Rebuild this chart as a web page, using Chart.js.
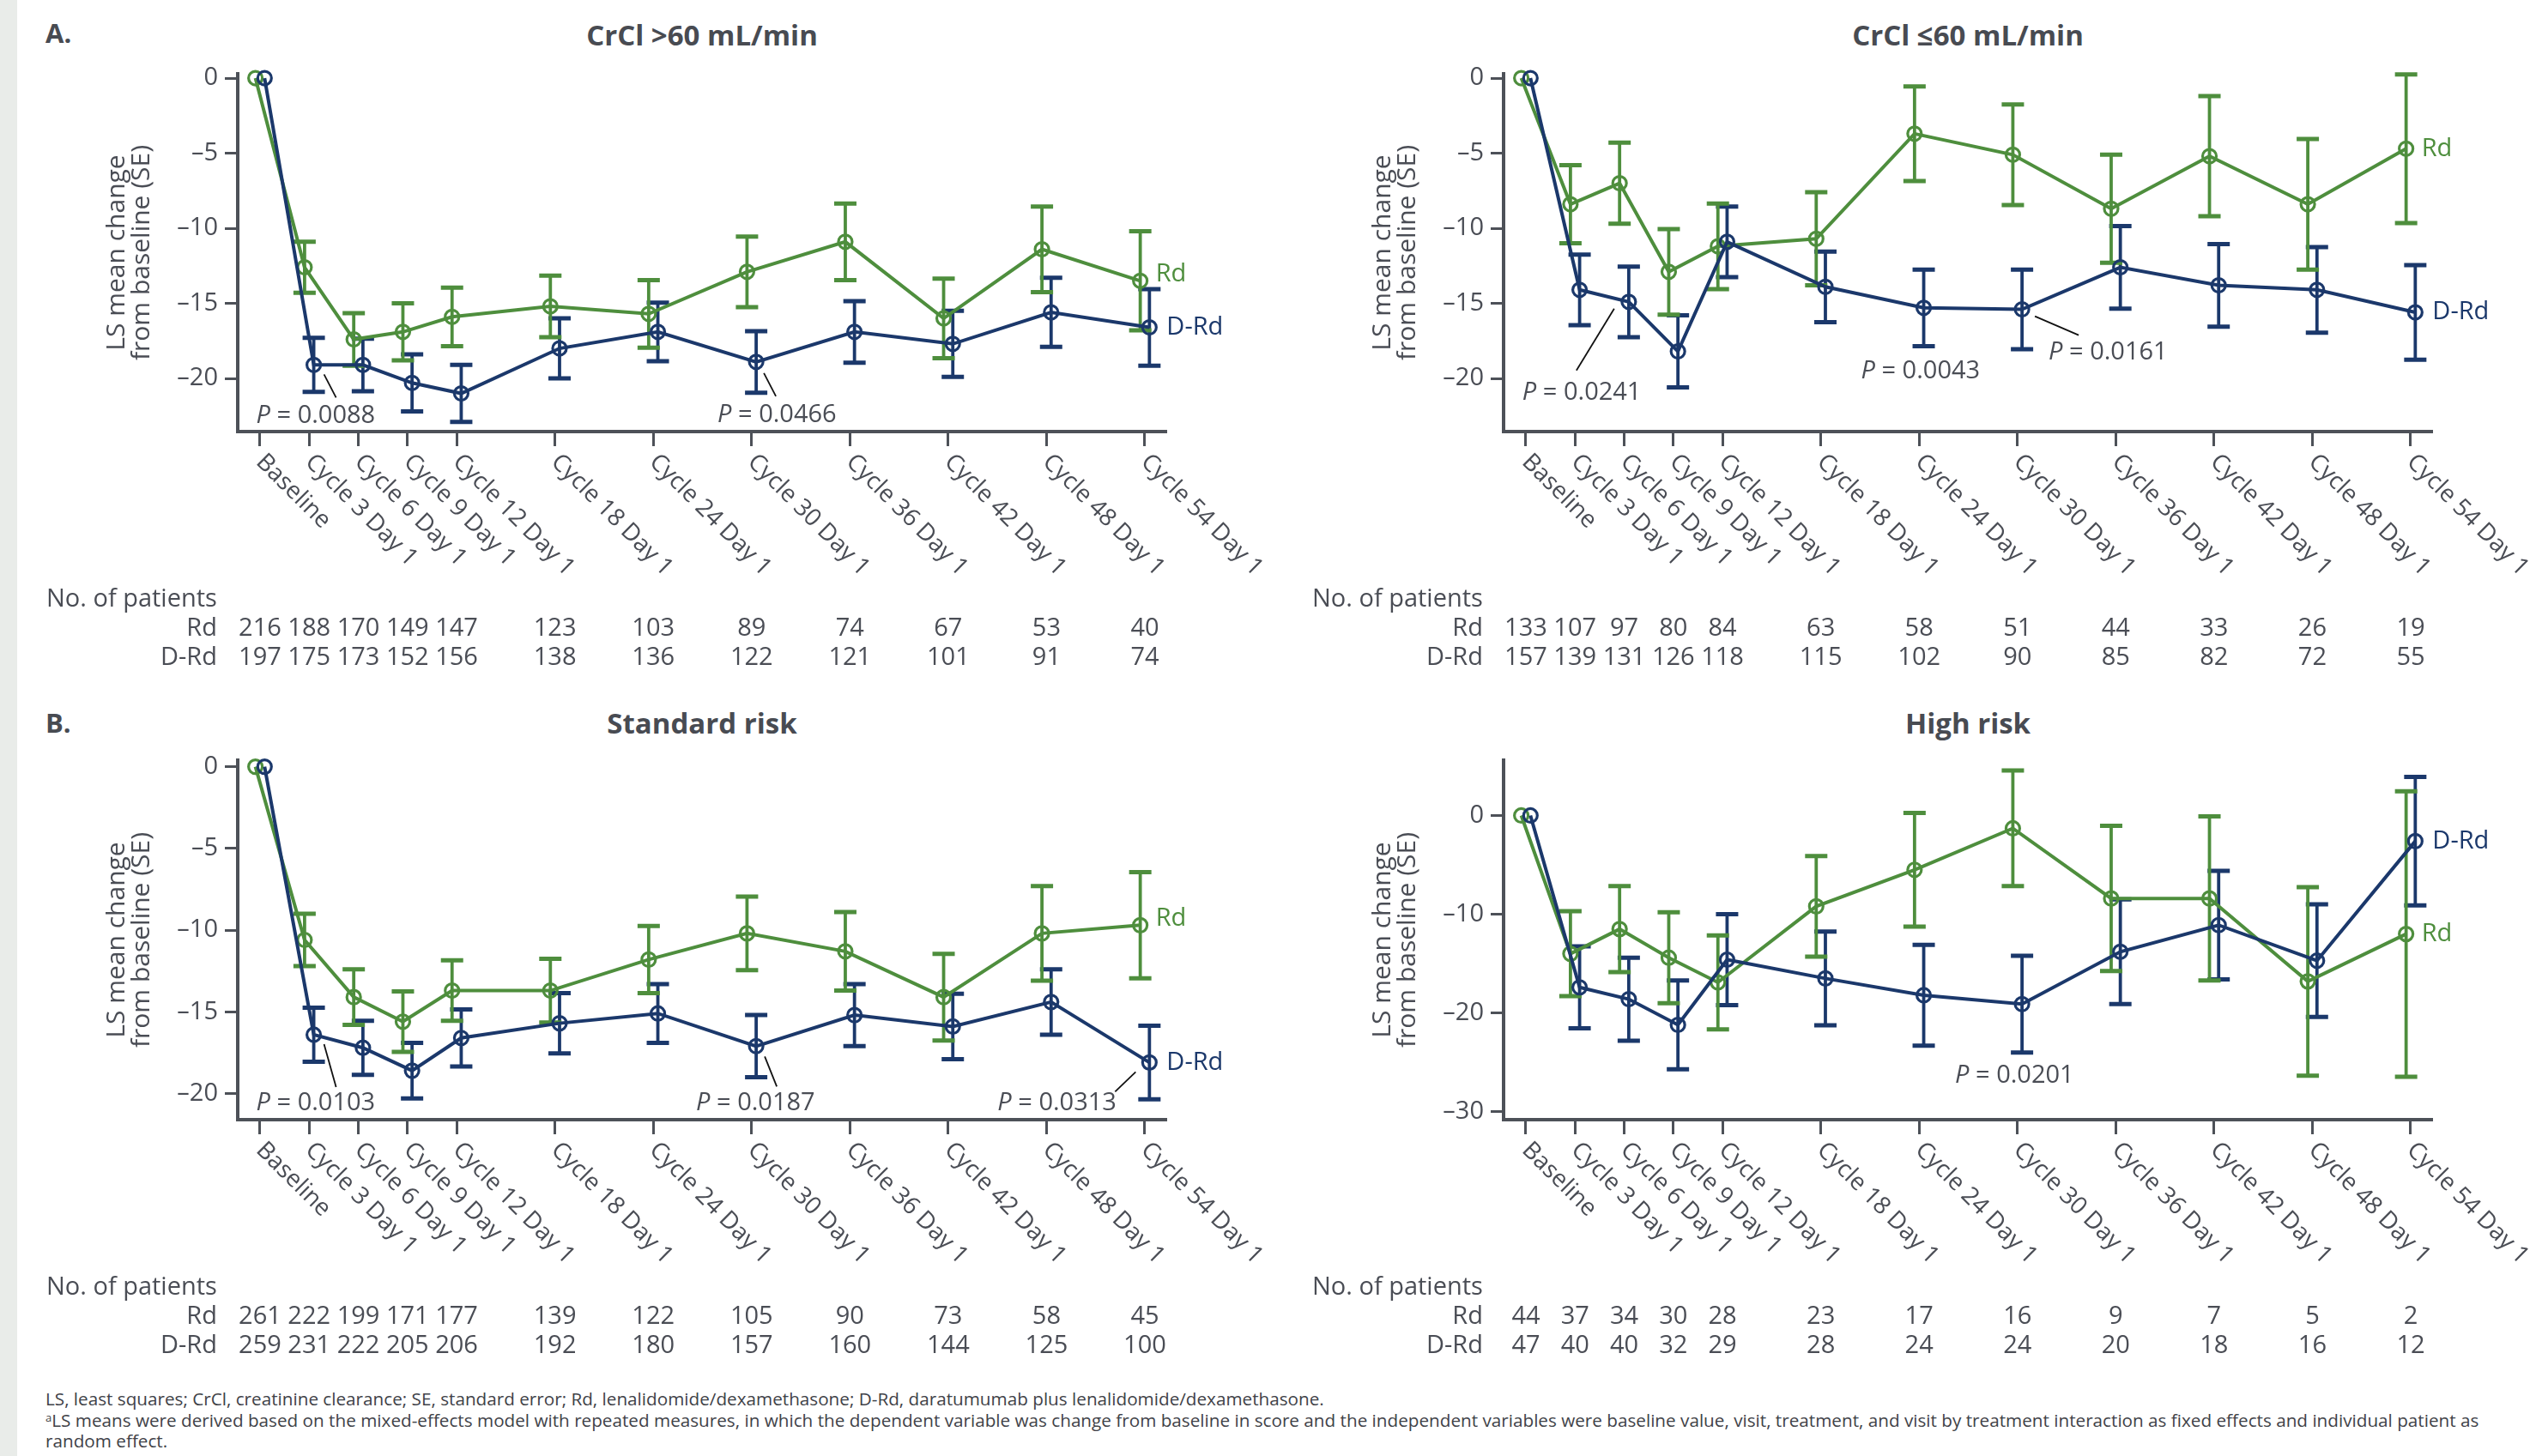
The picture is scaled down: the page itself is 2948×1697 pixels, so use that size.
<!DOCTYPE html>
<html>
<head>
<meta charset="utf-8">
<script src="https://cdn.jsdelivr.net/npm/chart.js@4.4.0/dist/chart.umd.min.js"></script>
<style>
  body { margin: 0; width: 2948px; height: 1697px; background: #fff; position: relative; overflow: hidden;
         font-family: "Open Sans", sans-serif; color: #4a4d55; }
  .stripe { position: absolute; left: 0; top: 0; width: 20px; height: 1697px; background: #e9ece9; }
  canvas { position: absolute; }
  .title { position: absolute; font-weight: 700; font-size: 33px; transform: translate(-50%, -50%); white-space: nowrap; color: #484b52; }
  .letter { position: absolute; font-weight: 700; font-size: 31px; transform: translateY(-50%); color: #484b52; }
  .foot { position: absolute; left: 53px; top: 1618px; font-size: 20.7px; line-height: 24.5px; white-space: nowrap; color: #3f4248; }
  .foot sup { font-size: 13px; vertical-align: 6px; line-height: 0; }
</style>
</head>
<body>
<div class="stripe"></div>
<div class="letter" style="left:53px;top:38px">A.</div>
<div class="letter" style="left:53px;top:842px">B.</div>
<div class="title" style="left:818px;top:40px">CrCl &gt;60 mL/min</div>
<div class="title" style="left:2293px;top:40px">CrCl ≤60 mL/min</div>
<div class="title" style="left:818px;top:842px">Standard risk</div>
<div class="title" style="left:2293px;top:842px">High risk</div>
<canvas id="c1" width="1474" height="800" style="left:0;top:0"></canvas>
<canvas id="c2" width="1474" height="800" style="left:1475px;top:0"></canvas>
<canvas id="c3" width="1474" height="800" style="left:0;top:800px"></canvas>
<canvas id="c4" width="1474" height="800" style="left:1475px;top:800px"></canvas>
<div class="foot">LS, least squares; CrCl, creatinine clearance; SE, standard error; Rd, lenalidomide/dexamethasone; D-Rd, daratumumab plus lenalidomide/dexamethasone.<br><sup>a</sup>LS means were derived based on the mixed-effects model with repeated measures, in which the dependent variable was change from baseline in score and the independent variables were baseline value, visit, treatment, and visit by treatment interaction as fixed effects and individual patient as<br>random effect.</div>
<script>
const cycles = [0, 3, 6, 9, 12, 18, 24, 30, 36, 42, 48, 54];
const cycleLabels = ['Baseline', 'Cycle 3 Day 1', 'Cycle 6 Day 1', 'Cycle 9 Day 1', 'Cycle 12 Day 1', 'Cycle 18 Day 1',
  'Cycle 24 Day 1', 'Cycle 30 Day 1', 'Cycle 36 Day 1', 'Cycle 42 Day 1', 'Cycle 48 Day 1', 'Cycle 54 Day 1'];
const yTicks5 = [0, -5, -10, -15, -20];
const yTicks10 = [0, -10, -20, -30];

// A. CrCl >60 mL/min
const crclHighRd = [0, -12.6, -17.4, -16.9, -15.9, -15.2, -15.7, -12.9, -10.9, -16.0, -11.4, -13.5];
const crclHighRdSE = [0, 1.7, 1.75, 1.9, 1.95, 2.05, 2.25, 2.35, 2.55, 2.65, 2.85, 3.3];
const crclHighDRd = [0, -19.1, -19.1, -20.3, -21.0, -18.0, -16.9, -18.9, -16.9, -17.7, -15.6, -16.6];
const crclHighDRdSE = [0, 1.8, 1.75, 1.9, 1.9, 2.0, 1.95, 2.05, 2.05, 2.2, 2.3, 2.55];
const crclHighNRd = [216, 188, 170, 149, 147, 123, 103, 89, 74, 67, 53, 40];
const crclHighNDRd = [197, 175, 173, 152, 156, 138, 136, 122, 121, 101, 91, 74];

// A. CrCl <=60 mL/min
const crclLowRd = [0, -8.4, -7.0, -12.9, -11.2, -10.7, -3.7, -5.1, -8.7, -5.2, -8.4, -4.7];
const crclLowRdSE = [0, 2.6, 2.7, 2.85, 2.85, 3.1, 3.15, 3.35, 3.6, 4.0, 4.35, 4.95];
const crclLowDRd = [0, -14.1, -14.9, -18.2, -10.9, -13.9, -15.3, -15.4, -12.6, -13.8, -14.1, -15.6];
const crclLowDRdSE = [0, 2.35, 2.35, 2.4, 2.35, 2.35, 2.55, 2.65, 2.75, 2.75, 2.85, 3.15];
const crclLowNRd = [133, 107, 97, 80, 84, 63, 58, 51, 44, 33, 26, 19];
const crclLowNDRd = [157, 139, 131, 126, 118, 115, 102, 90, 85, 82, 72, 55];

// B. Standard risk
const stdRd = [0, -10.6, -14.1, -15.6, -13.7, -13.7, -11.8, -10.2, -11.3, -14.1, -10.2, -9.7];
const stdRdSE = [0, 1.6, 1.7, 1.85, 1.85, 1.95, 2.05, 2.25, 2.4, 2.65, 2.9, 3.25];
const stdDRd = [0, -16.4, -17.2, -18.6, -16.6, -15.7, -15.1, -17.1, -15.2, -15.9, -14.4, -18.1];
const stdDRdSE = [0, 1.65, 1.65, 1.7, 1.75, 1.85, 1.8, 1.9, 1.9, 2.0, 2.0, 2.25];
const stdNRd = [261, 222, 199, 171, 177, 139, 122, 105, 90, 73, 58, 45];
const stdNDRd = [259, 231, 222, 205, 206, 192, 180, 157, 160, 144, 125, 100];

// B. High risk
const highRd = [0, -14.0, -11.5, -14.4, -16.9, -9.2, -5.5, -1.3, -8.4, -8.4, -16.8, -12.0];
const highRdSE = [0, 4.3, 4.35, 4.6, 4.75, 5.1, 5.75, 5.85, 7.35, 8.3, 9.55, 14.45];
const highDRd = [0, -17.4, -18.6, -21.2, -14.6, -16.5, -18.2, -19.1, -13.8, -11.1, -14.7, -2.6];
const highDRdSE = [0, 4.15, 4.2, 4.5, 4.6, 4.75, 5.1, 4.9, 5.3, 5.5, 5.7, 6.5];
const highNRd = [44, 37, 34, 30, 28, 23, 17, 16, 9, 7, 5, 2];
const highNDRd = [47, 40, 40, 32, 29, 28, 24, 24, 20, 18, 16, 12];

const GREEN = '#4e8e3d';
const NAVY = '#1b386b';
const AXIS = '#4d5158';
const TEXT = '#4a4d55';
const FONT = '"Open Sans", sans-serif';
const FS = 29;
const DODGE = 0.28;

Chart.defaults.font.family = FONT;
Chart.defaults.color = TEXT;

function series(label, vals, se, color, shift) {
  return {
    label, se,
    data: vals.map((v, i) => ({ x: cycles[i] + shift, y: v })),
    borderColor: color, pointBorderColor: color, pointBackgroundColor: 'rgba(255,255,255,0)',
    borderWidth: 4, pointRadius: 8, pointBorderWidth: 3.2, tension: 0, clip: false
  };
}

const errorBars = {
  id: 'errorBars',
  beforeDatasetsDraw(chart) {
    const ctx = chart.ctx, ys = chart.scales.y;
    chart.data.datasets.forEach((ds, d) => {
      const meta = chart.getDatasetMeta(d);
      ctx.save();
      ctx.strokeStyle = ds.borderColor;
      meta.data.forEach((pt, i) => {
        const se = ds.se[i];
        if (!se) return;
        const v = ds.data[i].y;
        const top = ys.getPixelForValue(v + se), bot = ys.getPixelForValue(v - se);
        ctx.lineWidth = 3.8;
        ctx.beginPath(); ctx.moveTo(pt.x, top); ctx.lineTo(pt.x, bot); ctx.stroke();
        ctx.lineWidth = 5;
        ctx.beginPath();
        ctx.moveTo(pt.x - 13, top); ctx.lineTo(pt.x + 13, top);
        ctx.moveTo(pt.x - 13, bot); ctx.lineTo(pt.x + 13, bot);
        ctx.stroke();
      });
      ctx.restore();
    });
  }
};

function drawP(ctx, x, y, val) {
  ctx.textAlign = 'left'; ctx.textBaseline = 'middle'; ctx.fillStyle = TEXT;
  ctx.font = 'italic ' + FS + 'px ' + FONT;
  ctx.fillText('P', x, y);
  const w = ctx.measureText('P').width;
  ctx.font = FS + 'px ' + FONT;
  ctx.fillText(' = ' + val, x + w, y);
}

const decorations = {
  id: 'decorations',
  afterDraw(chart) {
    const ctx = chart.ctx, xs = chart.scales.x, area = chart.chartArea;
    const o = chart.options.plugins.decorations;
    ctx.save();
    ctx.fillStyle = TEXT;
    // y axis title
    ctx.font = '30px ' + FONT;
    ctx.textAlign = 'center'; ctx.textBaseline = 'middle';
    const cy = (area.top + area.bottom) / 2;
    [['LS mean change', -141], ['from baseline (SE)', -112]].forEach(([t, dx]) => {
      ctx.save();
      ctx.translate(area.left + dx, cy);
      ctx.rotate(-Math.PI / 2);
      ctx.fillText(t, 0, 0);
      ctx.restore();
    });
    // rotated x labels
    ctx.font = '28px ' + FONT;
    ctx.textAlign = 'left'; ctx.textBaseline = 'middle';
    cycles.forEach((c, i) => {
      const x = xs.getPixelForValue(c);
      ctx.save();
      ctx.translate(x, area.bottom + 31);
      ctx.rotate(Math.PI / 4);
      ctx.fillText(cycleLabels[i], 0, 0);
      ctx.restore();
    });
    // patient numbers
    ctx.font = FS + 'px ' + FONT;
    ctx.textAlign = 'left';
    ctx.fillText('No. of patients', 54, area.bottom + 196);
    ctx.textAlign = 'right';
    ctx.fillText('Rd', area.left - 24, area.bottom + 230);
    ctx.fillText('D-Rd', area.left - 24, area.bottom + 264);
    ctx.textAlign = 'center';
    cycles.forEach((c, i) => {
      const x = xs.getPixelForValue(c);
      ctx.fillText(String(o.nRd[i]), x, area.bottom + 230);
      ctx.fillText(String(o.nDRd[i]), x, area.bottom + 264);
    });
    // series labels at last points
    const last = cycles.length - 1;
    const pDRd = chart.getDatasetMeta(0).data[last];
    const pRd = chart.getDatasetMeta(1).data[last];
    ctx.textAlign = 'left';
    ctx.fillStyle = GREEN;
    ctx.fillText('Rd', pRd.x + 18, pRd.y + o.rdDy);
    ctx.fillStyle = NAVY;
    ctx.fillText('D-Rd', pDRd.x + 20, pDRd.y + o.drdDy);
    // P values anchored at D-Rd points
    o.pvals.forEach(p => {
      const pt = chart.getDatasetMeta(0).data[p.idx];
      if (p.line) {
        ctx.strokeStyle = '#111'; ctx.lineWidth = 1.8;
        ctx.beginPath();
        ctx.moveTo(pt.x + p.line[0], pt.y + p.line[1]);
        ctx.lineTo(pt.x + p.line[2], pt.y + p.line[3]);
        ctx.stroke();
      }
      drawP(ctx, pt.x + p.dx, pt.y + p.dy, p.text);
    });
    ctx.restore();
  }
};

function panel(id, o) {
  return new Chart(document.getElementById(id), {
    type: 'line',
    data: { datasets: [series('D-Rd', o.drd, o.drdSE, NAVY, DODGE), series('Rd', o.rd, o.rdSE, GREEN, -DODGE)] },
    plugins: [errorBars, decorations],
    options: {
      responsive: false, animation: false, devicePixelRatio: 1,
      layout: { autoPadding: false, padding: { left: 0, top: o.top, right: 115, bottom: 0 } },
      plugins: {
        legend: { display: false }, tooltip: { enabled: false },
        decorations: { nRd: o.nRd, nDRd: o.nDRd, pvals: o.pvals, rdDy: o.rdDy, drdDy: o.drdDy }
      },
      scales: {
        x: {
          type: 'linear', min: -1.36, max: 55.31,
          afterBuildTicks: s => { s.ticks = cycles.map(v => ({ value: v })); },
          afterFit: s => { s.height = 800 - o.bottom; },
          ticks: { display: false },
          grid: { drawOnChartArea: false, drawTicks: true, tickLength: 17, tickWidth: 3, tickColor: AXIS },
          border: { display: true, color: AXIS, width: 4 }
        },
        y: {
          min: o.min, max: o.max,
          afterBuildTicks: s => { s.ticks = o.ticks.map(v => ({ value: v })); },
          afterFit: s => { s.width = 277; },
          ticks: { color: TEXT, font: { size: FS }, padding: 8,
                   callback: v => v < 0 ? '\u2013' + Math.abs(v) : String(v) },
          grid: { drawOnChartArea: false, drawTicks: true, tickLength: 15, tickWidth: 3, tickColor: AXIS },
          border: { display: true, color: AXIS, width: 4 }
        }
      }
    }
  });
}

panel('c1', {
  rd: crclHighRd, rdSE: crclHighRdSE, drd: crclHighDRd, drdSE: crclHighDRdSE, nRd: crclHighNRd, nDRd: crclHighNDRd,
  min: -23.54, max: 0.29, ticks: yTicks5, top: 86, bottom: 503, rdDy: -8, drdDy: 0,
  pvals: [
    { idx: 1, text: '0.0088', dx: -67, dy: 59, line: [12, 11, 26, 38] },
    { idx: 7, text: '0.0466', dx: -45, dy: 62, line: [9, 13, 23, 40] }
  ]
});
panel('c2', {
  rd: crclLowRd, rdSE: crclLowRdSE, drd: crclLowDRd, drdSE: crclLowDRdSE, nRd: crclLowNRd, nDRd: crclLowNDRd,
  min: -23.54, max: 0.29, ticks: yTicks5, top: 86, bottom: 503, rdDy: 0, drdDy: 0,
  pvals: [
    { idx: 2, text: '0.0241', dx: -124, dy: 106, line: [-17, 8, -61, 80] },
    { idx: 6, text: '0.0043', dx: -73, dy: 74 },
    { idx: 7, text: '0.0161', dx: 31, dy: 50, line: [15, 8, 66, 30] }
  ]
});
panel('c3', {
  rd: stdRd, rdSE: stdRdSE, drd: stdDRd, drdSE: stdDRdSE, nRd: stdNRd, nDRd: stdNDRd,
  min: -21.6, max: 0.4, ticks: yTicks5, top: 86, bottom: 505, rdDy: -8, drdDy: 0,
  pvals: [
    { idx: 1, text: '0.0103', dx: -67, dy: 80, line: [12, 11, 26, 61] },
    { idx: 7, text: '0.0187', dx: -70, dy: 66, line: [10, 12, 24, 47] },
    { idx: 11, text: '0.0313', dx: -177, dy: 47, line: [-16, 11, -40, 34] }
  ]
});
panel('c4', {
  rd: highRd, rdSE: highRdSE, drd: highDRd, drdSE: highDRdSE, nRd: highNRd, nDRd: highNDRd,
  min: -30.8, max: 5.6, ticks: yTicks10, top: 86, bottom: 505, rdDy: 0, drdDy: 0,
  pvals: [
    { idx: 7, text: '0.0201', dx: -78, dy: 83 }
  ]
});
</script>
</body>
</html>
